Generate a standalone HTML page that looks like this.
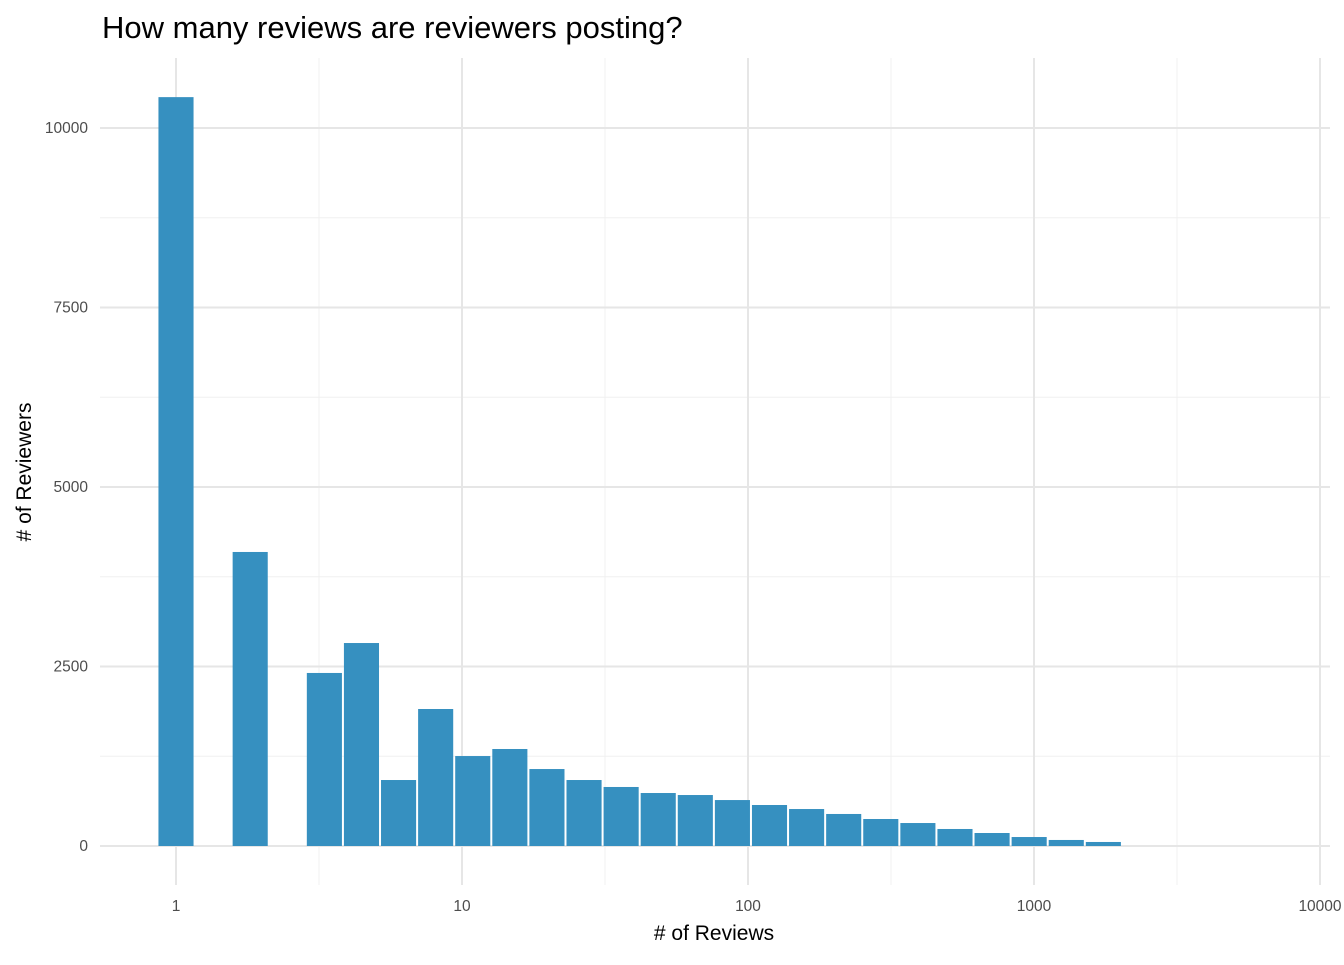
<!DOCTYPE html>
<html><head><meta charset="utf-8"><style>
body{margin:0;background:#fff;}
svg text{font-family:"Liberation Sans",Arial,sans-serif;}
</style></head><body>
<svg width="1344" height="960" xmlns="http://www.w3.org/2000/svg">
<text x="102" y="38" font-size="31" fill="#000">How many reviews are reviewers posting?</text>
<g id="grid"></g>
<g id="bars"></g>
<g id="axes"></g>
<text x="714" y="940" font-size="21" text-anchor="middle" fill="#000"># of Reviews</text>
<text transform="translate(31,472) rotate(-90)" font-size="21" text-anchor="middle" fill="#000"># of Reviewers</text>
</svg>
<script>
const binIndex=[0,2,4,5,6,7,8,9,10,11,12,13,14,15,16,17,18,19,20,21,22,23,24,25];
const counts=[10430,4095,2410,2827,919,1908,1253,1351,1072,919,822,738,710,640,571,515,446,376,320,237,181,125,84,56];
const binLogWidth=0.1297;
const xTicks=[1,10,100,1000,10000];
const xTickLabels=["1","10","100","1000","10000"];
const yTicks=[0,2500,5000,7500,10000];
const yTickLabels=["0","2500","5000","7500","10000"];

const NS="http://www.w3.org/2000/svg";
const px0=100,px1=1330,py0=58,py1=885;
function xs(v){return 176+Math.log10(v)*286;}
function xl(l){return 176+l*286;}
function ys(v){return 846-v*0.0718;}
function mk(t,a,p){const e=document.createElementNS(NS,t);for(const k in a)e.setAttribute(k,a[k]);p.appendChild(e);return e;}
const grid=document.getElementById('grid'),bars=document.getElementById('bars'),axes=document.getElementById('axes');
for(let i=0;i<yTicks.length-1;i++){const v=(yTicks[i]+yTicks[i+1])/2;
 const l=mk('line',{x1:px0,x2:px1,y1:ys(v),y2:ys(v),stroke:'#f0f0f0','stroke-width':1},grid);
 
 }
for(let i=0;i<xTicks.length-1;i++){const x=xl(Math.log10(xTicks[i])+0.5);
 const l=mk('line',{x1:x,x2:x,y1:py0,y2:py1,stroke:'#f0f0f0','stroke-width':1},grid);
 
 }
yTicks.forEach((v,i)=>{const l=mk('line',{x1:px0,x2:px1,y1:ys(v),y2:ys(v),stroke:'#e6e6e6','stroke-width':2},grid);
 
 
 const t=mk('text',{x:88,y:ys(v)+5,'font-size':15.5,'text-anchor':'end',fill:'#4d4d4d'},axes);t.textContent=yTickLabels[i];
 
 });
xTicks.forEach((v,i)=>{const x=xs(v);const l=mk('line',{x1:x,x2:x,y1:py0,y2:py1,stroke:'#e6e6e6','stroke-width':2},grid);
 
 
 const t=mk('text',{x:x,y:911,'font-size':15.5,'text-anchor':'middle',fill:'#4d4d4d'},axes);t.textContent=xTickLabels[i];
 
 });
counts.forEach((c,i)=>{const c0=binIndex[i]*binLogWidth;
 const x0=xl(c0-binLogWidth/2),x1=xl(c0+binLogWidth/2);
 const r=mk('rect',{x:x0+1,y:ys(c),width:x1-x0-2,height:ys(0)-ys(c),fill:'#3690c0'},bars);
 
 });
</script>
</body></html>
